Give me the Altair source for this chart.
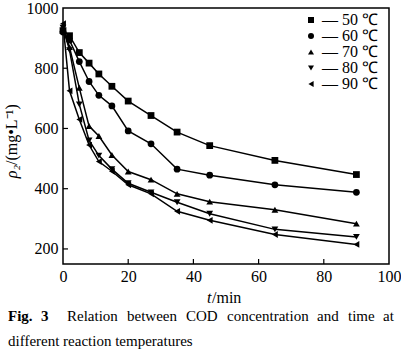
import altair as alt
import pandas as pd

# ---- data ----
times = [0, 2, 5, 8, 11, 15, 20, 27, 35, 45, 65, 90]
series = ["50 ℃", "60 ℃", "70 ℃", "80 ℃", "90 ℃"]
cod_50 = [925, 908, 852, 817, 781, 740, 691, 643, 588, 543, 494, 447]
cod_60 = [920, 893, 822, 756, 710, 675, 592, 549, 465, 445, 413, 388]
cod_70 = [930, 870, 735, 608, 575, 512, 457, 430, 383, 357, 330, 284]
cod_80 = [935, 860, 680, 560, 510, 465, 418, 388, 355, 317, 265, 240]
cod_90 = [948, 725, 630, 545, 490, 458, 413, 383, 325, 295, 248, 215]
shapes = ["square", "circle", "triangle-up", "triangle-down", "triangle-left"]
x_ticks = [0, 20, 40, 60, 80, 100]
y_ticks = [200, 400, 600, 800, 1000]
x_inner_ticks = [20, 40, 60, 80]
y_inner_ticks = [200, 400, 600, 800]

rows = []
for s, vals in zip(series, [cod_50, cod_60, cod_70, cod_80, cod_90]):
    for t, v in zip(times, vals):
        rows.append({"t": t, "cod": v, "series": s})
df = pd.DataFrame(rows)

W, H = 326, 256
FONT = "'Liberation Serif', 'Times New Roman', Times, serif"
xs = alt.Scale(domain=[0, 100], nice=False, zero=False)
ys = alt.Scale(domain=[150, 1000], nice=False, zero=False)

x_axis = alt.Axis(values=x_ticks, title=None, domain=False, ticks=False, grid=False, format="d",
                  labelFont=FONT, labelFontSize=16, labelPadding=4, labelColor="black",
                  labelOverlap=False, labelFlush=False)
y_axis = alt.Axis(values=y_ticks, title=None, domain=False, ticks=False, grid=False, format="d",
                  labelFont=FONT, labelFontSize=16, labelPadding=5, labelColor="black",
                  labelOverlap=False, labelFlush=False)

base = alt.Chart(df).encode(
    x=alt.X("t:Q", scale=xs, axis=x_axis),
    y=alt.Y("cod:Q", scale=ys, axis=y_axis),
    detail="series:N",
)
lines = base.mark_line(color="black", strokeWidth=1.5)
points = base.mark_point(filled=True, color="black", size=46, opacity=1).encode(
    shape=alt.Shape(
        "series:N",
        scale=alt.Scale(domain=series, range=shapes),
        legend=alt.Legend(
            title=None, orient="none", legendX=240, legendY=4,
            labelExpr="'— ' + datum.label", labelFont=FONT, labelFontSize=16,
            labelColor="black", symbolFillColor="black", symbolStrokeColor="black",
            symbolSize=36, labelOffset=3, rowPadding=0, padding=0,
        ),
    )
)

xt = alt.Chart(pd.DataFrame({"v": x_inner_ticks})).mark_rule(color="black", strokeWidth=1.2).encode(
    x=alt.X("v:Q", scale=xs), y=alt.value(H), y2=alt.value(H - 5))
yt = alt.Chart(pd.DataFrame({"v": y_inner_ticks})).mark_rule(color="black", strokeWidth=1.2).encode(
    y=alt.Y("v:Q", scale=ys), x=alt.value(0), x2=alt.value(5))


def txt(s, x, y, size=15, weight="normal", style="normal", align="left", angle=0, baseline="middle"):
    kw = dict(font=FONT, fontSize=size, fontWeight=weight, fontStyle=style,
              align=align, baseline=baseline, color="black")
    if angle:
        kw["angle"] = angle
    return alt.Chart(pd.DataFrame({"s": [s]})).mark_text(**kw).encode(
        text="s:N", x=alt.value(x), y=alt.value(y))


# plot area origin is at (63, 8) on the page
texts = [
    txt("ρ₂", -51, 157, size=16, style="italic", align="right", angle=270),
    txt("/(mg•L⁻¹)", -51, 157, size=16, align="left", angle=270),
    txt("t", 144, 290, size=16, style="italic"),
    txt("/min", 149, 290, size=16),
    txt("Fig.", -55, 308, weight="bold"),
    txt("3", -22, 308, weight="bold"),
    txt("Relation", 4, 308),
    txt("between", 64, 308),
    txt("COD", 123, 308),
    txt("concentration", 164, 308),
    txt("and", 254, 308),
    txt("time", 285, 308),
    txt("at", 320, 308),
    txt("different reaction temperatures", -55, 333),
]

chart = alt.layer(lines, points, xt, yt, *texts).properties(
    width=W, height=H,
    autosize=alt.AutoSizeParams(type="none"),
    padding={"left": 63, "top": 8, "right": 12, "bottom": 91},
).configure_view(stroke="black", strokeWidth=1.5)

chart.save("out.html", embed_options={"renderer": "svg", "actions": False})
